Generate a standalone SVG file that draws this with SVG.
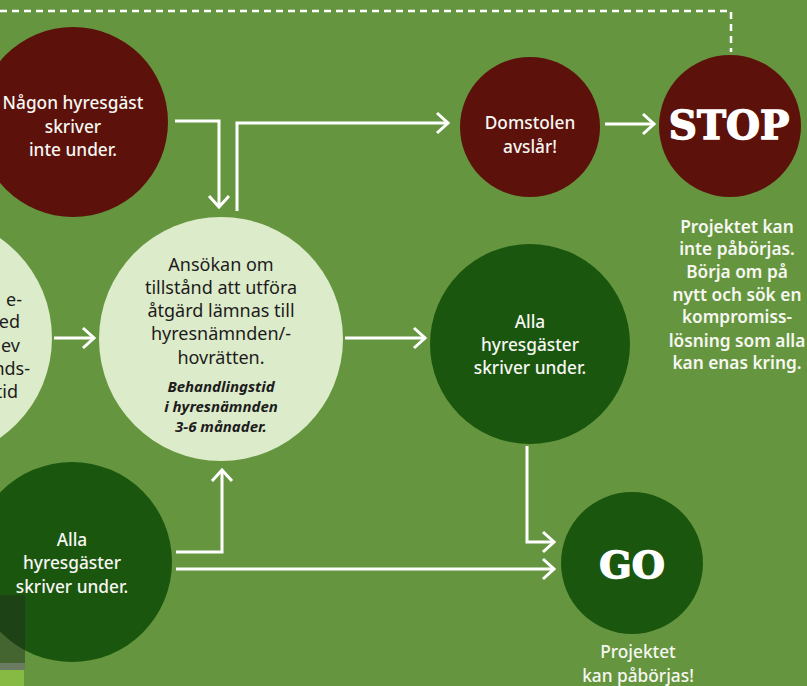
<svg xmlns="http://www.w3.org/2000/svg" width="807" height="686" viewBox="0 0 807 686">
<defs>
<style>
.red{fill:#5c110b}
.dg{fill:#1b560f}
.lt{fill:#dcebca}
.w{fill:#f7f7f2;font-family:"Noto Sans","Open Sans",sans-serif;font-size:17.3px;font-weight:500;text-anchor:middle}
.wb{fill:#f7f7f2;font-family:"Noto Sans","Open Sans",sans-serif;font-size:17.3px;font-weight:600;text-anchor:middle}
.d{fill:#1c1c1c;font-family:"Noto Sans","Open Sans",sans-serif;font-size:18px;text-anchor:middle}
.de{fill:#1c1c1c;font-family:"Noto Sans","Open Sans",sans-serif;font-size:18px;text-anchor:end}
.di{fill:#1c1c1c;font-family:"Noto Sans","Open Sans",sans-serif;font-size:15px;font-weight:700;font-style:italic;text-anchor:middle}
.big{fill:#ffffff;stroke:#ffffff;stroke-width:1.4;font-family:"DejaVu Serif",serif;font-weight:900;text-anchor:middle}
.c{fill:none;stroke:#ffffff;stroke-width:3}
.dash{fill:none;stroke:#ffffff;stroke-width:2.5;stroke-dasharray:7 5}
</style>
<marker id="ah" viewBox="-13 -12 15 24" refX="0" refY="0" markerWidth="15" markerHeight="24" markerUnits="userSpaceOnUse" orient="auto">
<path d="M-11,-10 L0,0 L-11,10" fill="none" stroke="#ffffff" stroke-width="3"/>
</marker>
</defs>
<rect width="807" height="686" fill="#65963f"/>

<g id="connectors">
<path class="dash" d="M0,11 H731 V52"/>
<path class="c" d="M175,121 H219 V207" marker-end="url(#ah)"/>
<path class="c" d="M237,211 V123 H448" marker-end="url(#ah)"/>
<path class="c" d="M605,124 H654" marker-end="url(#ah)"/>
<path class="c" d="M54,338 H94" marker-end="url(#ah)"/>
<path class="c" d="M345,338 H425" marker-end="url(#ah)"/>
<path class="c" d="M176,552 H222 V470" marker-end="url(#ah)"/>
<path class="c" d="M176,569 H554" marker-end="url(#ah)"/>
<path class="c" d="M527,446 V542 H554" marker-end="url(#ah)"/>
</g>

<g id="node-nagon">
<circle class="red" cx="73" cy="122" r="95"/>
<text class="w" x="73" y="109">Någon hyresgäst</text>
<text class="w" x="73" y="133">skriver</text>
<text class="w" x="73" y="156">inte under.</text>
</g>

<g id="node-left">
<circle class="lt" cx="-70" cy="338" r="122"/>
<text class="de" x="22" y="306">e-</text>
<text class="de" x="20" y="328">ed</text>
<text class="de" x="20" y="352">ev</text>
<text class="de" x="30" y="375">nds-</text>
<text class="de" x="18" y="398">tid</text>
</g>

<g id="node-ansokan">
<circle class="lt" cx="221" cy="339" r="122"/>
<text class="d" x="221" y="271">Ansökan om</text>
<text class="d" x="221" y="294">tillstånd att utföra</text>
<text class="d" x="221" y="317">åtgärd lämnas till</text>
<text class="d" x="221" y="340">hyresnämnden/-</text>
<text class="d" x="221" y="364">hovrätten.</text>
<text class="di" x="221" y="392">Behandlingstid</text>
<text class="di" x="221" y="412">i hyresnämnden</text>
<text class="di" x="221" y="432">3-6 månader.</text>
</g>

<g id="node-domstolen">
<circle class="red" cx="530" cy="127" r="70"/>
<text class="w" x="530" y="129">Domstolen</text>
<text class="w" x="530" y="153">avslår!</text>
</g>

<g id="node-stop">
<circle class="red" cx="730" cy="126" r="71"/>
<text class="big" x="729" y="139" font-size="39">STOP</text>
<text class="wb" x="737" y="233">Projektet kan</text>
<text class="wb" x="737" y="255">inte påbörjas.</text>
<text class="wb" x="737" y="278">Börja om på</text>
<text class="wb" x="737" y="301">nytt och sök en</text>
<text class="wb" x="737" y="323">kompromiss-</text>
<text class="wb" x="737" y="347">lösning som alla</text>
<text class="wb" x="737" y="369">kan enas kring.</text>
</g>

<g id="node-alla-right">
<circle class="dg" cx="530" cy="344" r="100"/>
<text class="w" x="530" y="328">Alla</text>
<text class="w" x="530" y="351">hyresgäster</text>
<text class="w" x="530" y="374">skriver under.</text>
</g>

<g id="node-alla-left">
<circle class="dg" cx="72" cy="562" r="100"/>
<text class="w" x="72" y="546">Alla</text>
<text class="w" x="72" y="569">hyresgäster</text>
<text class="w" x="72" y="593">skriver under.</text>
</g>

<g id="node-go">
<circle class="dg" cx="632" cy="563" r="71"/>
<text class="big" x="632" y="578" font-size="38">GO</text>
<text class="w" x="638" y="658">Projektet</text>
<text class="w" x="638" y="682">kan påbörjas!</text>
</g>

<g id="corner">
<rect x="0" y="595" width="25" height="68" fill="#1f2a1f" opacity="0.45"/>
<rect x="0" y="663" width="25" height="7" fill="#6b7b62"/>
<rect x="0" y="670" width="24" height="16" fill="#86ba42"/>
</g>
</svg>
